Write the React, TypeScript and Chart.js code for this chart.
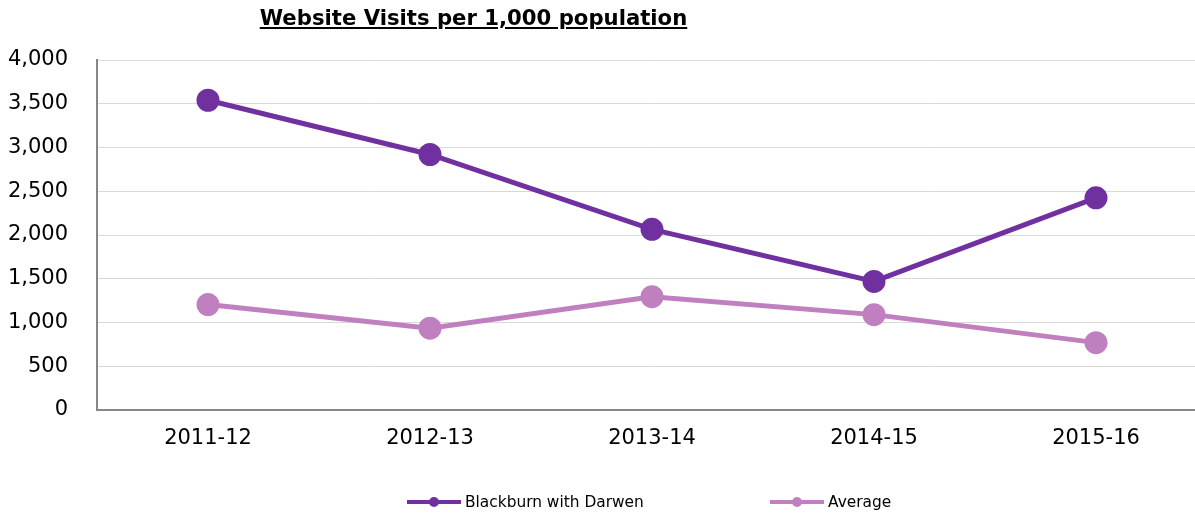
import React, { useEffect, useRef } from "react";
import { Chart, registerables } from "chart.js";

Chart.register(...registerables);

const categories = ["2011-12", "2012-13", "2013-14", "2014-15", "2015-16"];
const blackburnValues = [3540, 2920, 2065, 1470, 2425];
const averageValues = [1205, 935, 1295, 1090, 770];
const seriesNames = ["Blackburn with Darwen", "Average"];
const yTicks = [0, 500, 1000, 1500, 2000, 2500, 3000, 3500, 4000];
const titleText = "Website Visits per 1,000 population";

const DARK = "#7030A0";
const LIGHT = "#C080C0";
const FONT = "'DejaVu Sans', Verdana, sans-serif";

const legendPlugin = {
  id: "customLegend",
  afterDraw(chart: any) {
    const ctx = chart.ctx;
    const items = [
      { name: seriesNames[0], color: DARK, x: 407 },
      { name: seriesNames[1], color: LIGHT, x: 770 },
    ];
    const y = 502;
    ctx.save();
    for (const it of items) {
      ctx.strokeStyle = it.color;
      ctx.lineWidth = 4;
      ctx.beginPath();
      ctx.moveTo(it.x, y);
      ctx.lineTo(it.x + 54, y);
      ctx.stroke();
      ctx.fillStyle = it.color;
      ctx.beginPath();
      ctx.arc(it.x + 27, y, 5, 0, Math.PI * 2);
      ctx.fill();
      ctx.fillStyle = "#000";
      ctx.font = `15.4px ${FONT}`;
      ctx.textBaseline = "middle";
      ctx.textAlign = "left";
      ctx.fillText(it.name, it.x + 58, y + 1);
    }
    ctx.restore();
  },
};

export default function App() {
  const ref = useRef<HTMLCanvasElement>(null);
  useEffect(() => {
    if (!ref.current) return;
    const chart = new Chart(ref.current, {
      type: "line",
      data: {
        labels: categories,
        datasets: [
          {
            label: seriesNames[0],
            data: blackburnValues,
            borderColor: DARK,
            backgroundColor: DARK,
            borderWidth: 5,
            pointRadius: 9,
            pointHoverRadius: 9,
            tension: 0,
          },
          {
            label: seriesNames[1],
            data: averageValues,
            borderColor: LIGHT,
            backgroundColor: LIGHT,
            borderWidth: 5,
            pointRadius: 9,
            pointHoverRadius: 9,
            tension: 0,
          },
        ],
      },
      options: {
        animation: false,
        responsive: false,
        maintainAspectRatio: false,
        layout: { padding: { left: 0, right: 6, top: 60, bottom: 0 } },
        plugins: {
          legend: { display: false },
          title: { display: false },
          tooltip: { enabled: false },
        },
        scales: {
          x: {
            offset: true,
            grid: { display: false, drawTicks: false, offset: true },
            border: { display: true, color: "#868686", width: 2 },
            ticks: { color: "#000", font: { family: FONT, size: 21 }, padding: 16, maxRotation: 0, autoSkip: false },
            afterFit: (s: any) => {
              s.height = 103;
            },
          },
          y: {
            min: 0,
            max: 4000,
            afterBuildTicks: (s: any) => {
              s.ticks = yTicks.map((v) => ({ value: v }));
            },
            grid: { color: "#D9D9D9", lineWidth: 1, drawTicks: false },
            border: { display: true, color: "#868686", width: 2 },
            ticks: {
              color: "#000",
              font: { family: FONT, size: 21 },
              padding: 29,
              callback: (v: any) => Number(v).toLocaleString("en-US"),
            },
            afterFit: (s: any) => {
              s.width = 97;
            },
          },
        },
      },
      plugins: [legendPlugin],
    });
    return () => chart.destroy();
  }, []);

  return (
    <div style={{ position: "fixed", left: 0, top: 0, width: 1195, height: 513, overflow: "hidden", background: "#fff" }}>
      <canvas ref={ref} width={1221} height={513} style={{ display: "block", width: 1221, height: 513 }} />
      <div
        style={{
          position: "absolute",
          left: 240,
          top: 5,
          width: 467,
          textAlign: "center",
          fontFamily: FONT,
          fontWeight: "bold",
          fontSize: 21.2,
          textDecoration: "underline",
          whiteSpace: "nowrap",
          color: "#000",
        }}
      >
        {titleText}
      </div>
    </div>
  );
}
